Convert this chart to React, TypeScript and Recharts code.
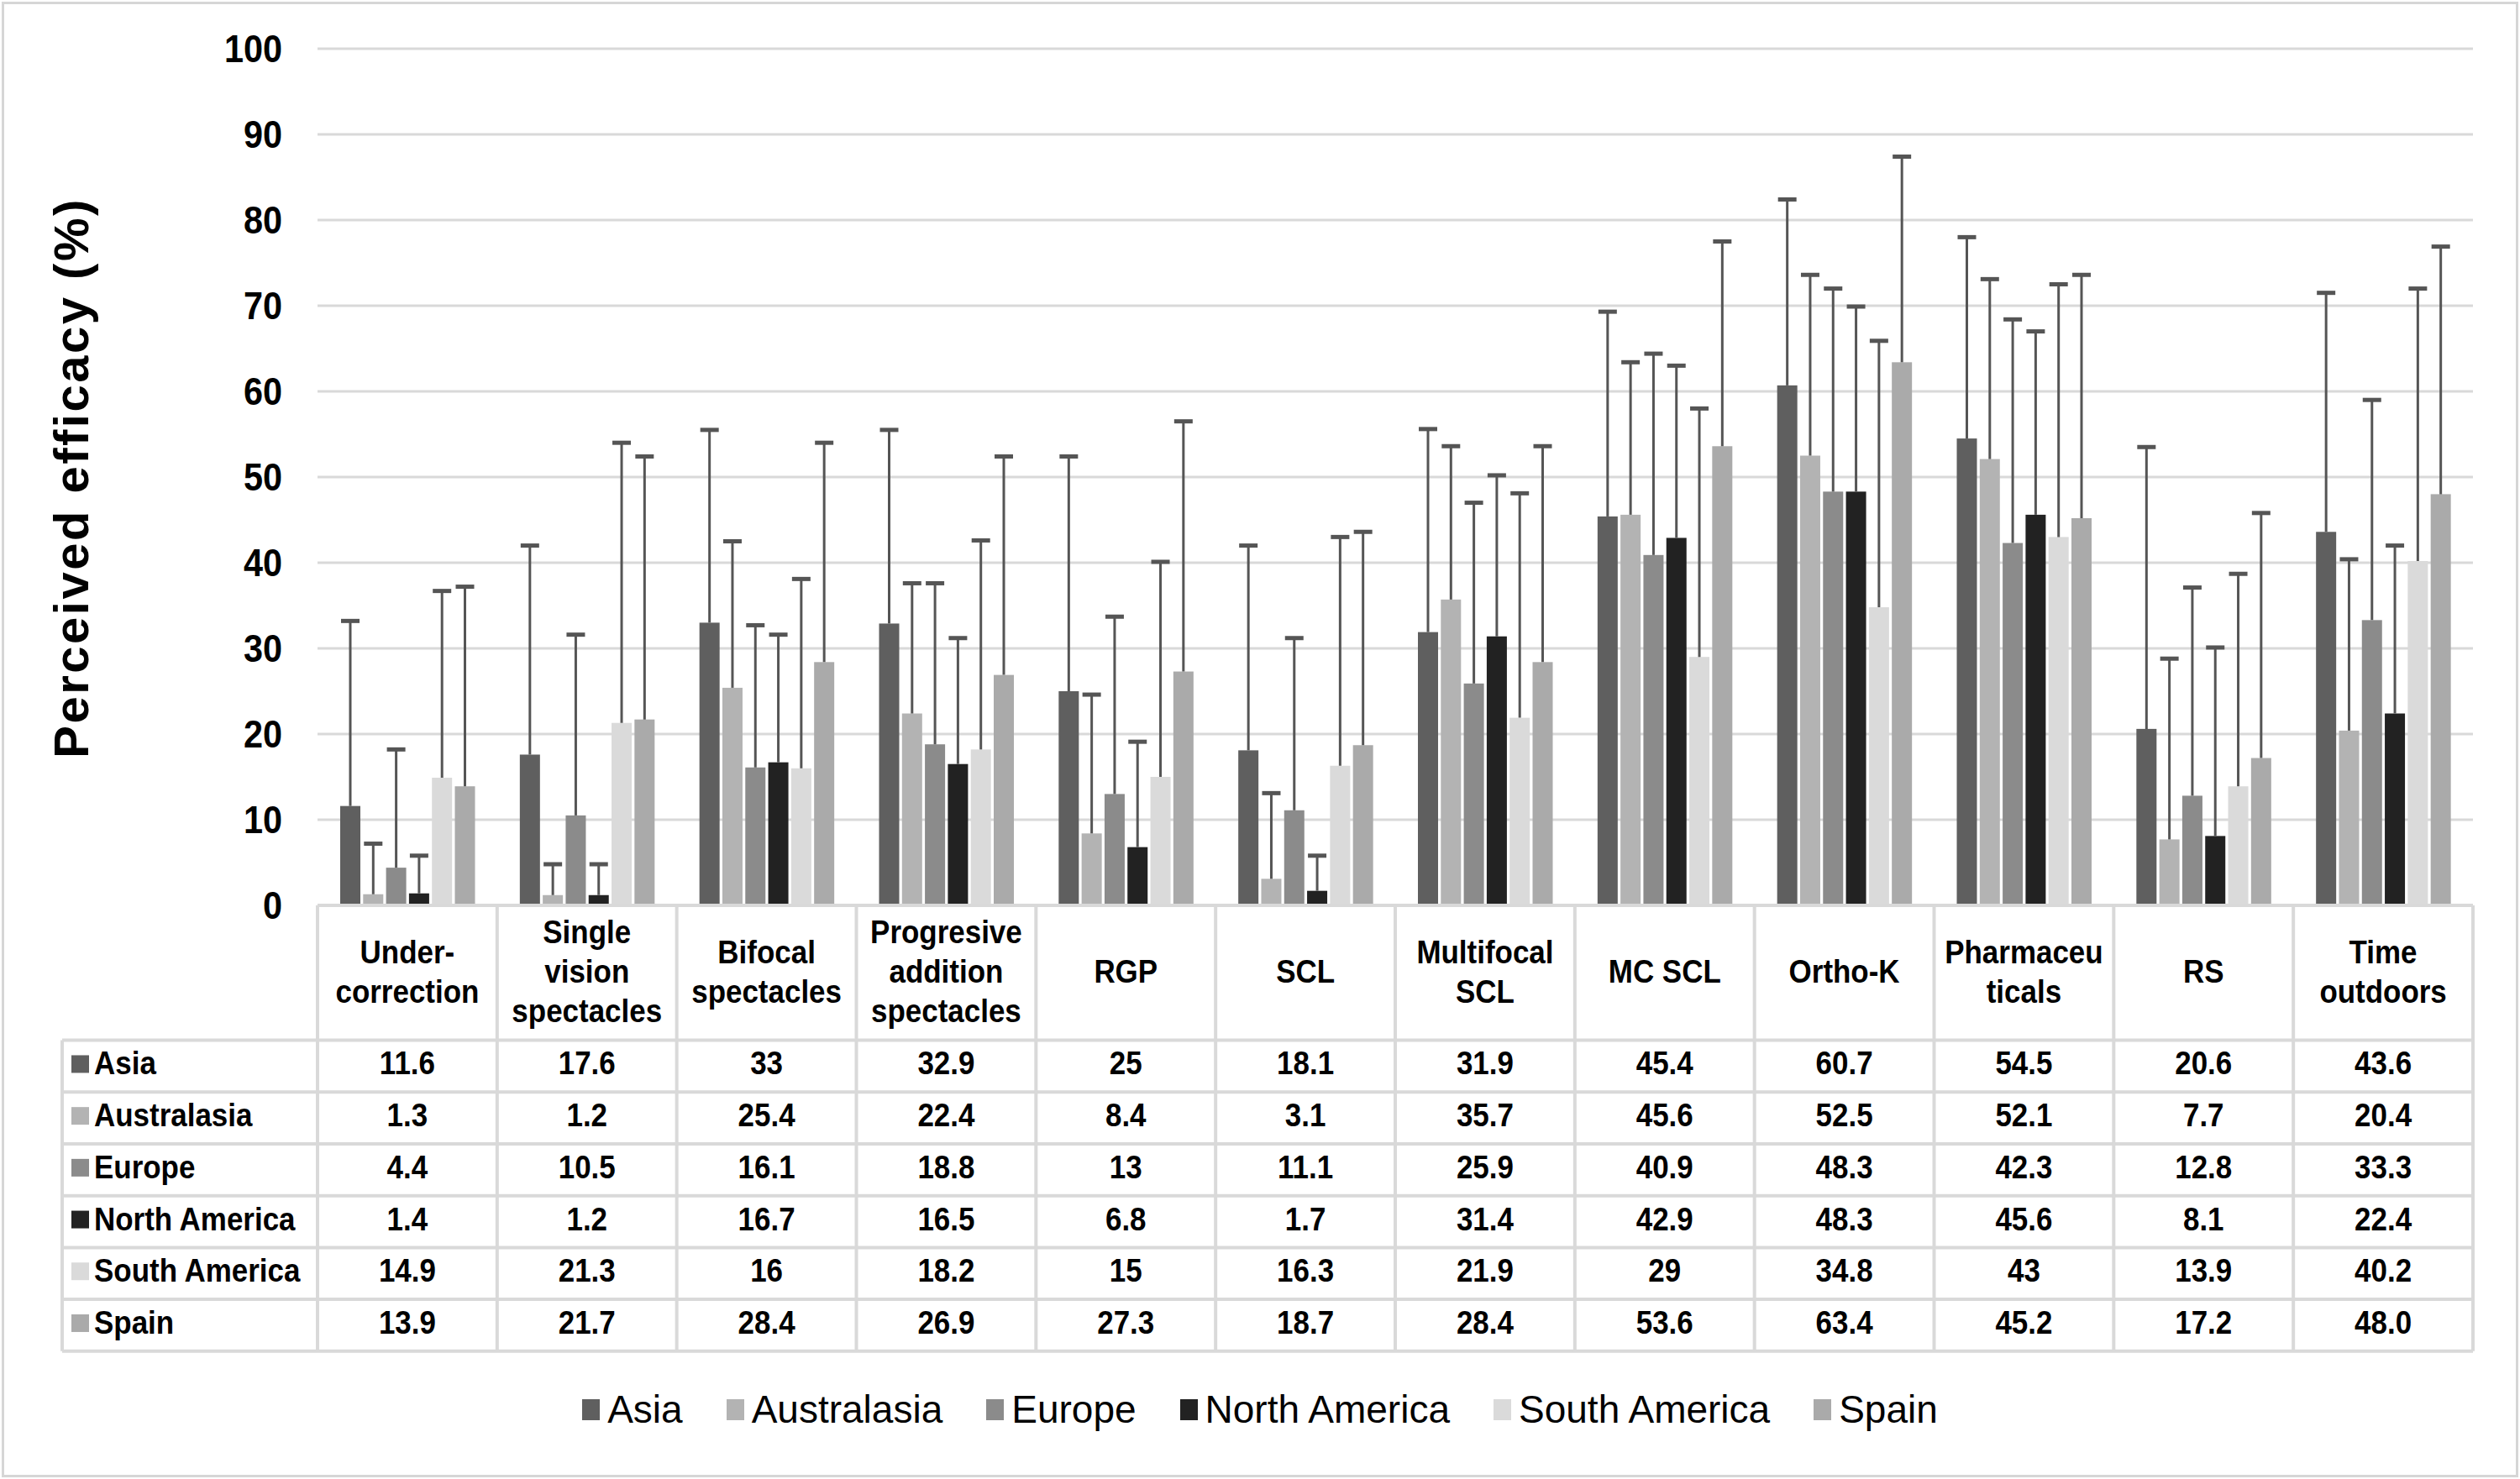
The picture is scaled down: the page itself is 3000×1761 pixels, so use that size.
import React from "react";
import { BarChart, Bar, XAxis, YAxis, CartesianGrid, Legend } from "recharts";

const categories = [
  "Under-\ncorrection",
  "Single\nvision\nspectacles",
  "Bifocal\nspectacles",
  "Progresive\naddition\nspectacles",
  "RGP",
  "SCL",
  "Multifocal\nSCL",
  "MC SCL",
  "Ortho-K",
  "Pharmaceu\nticals",
  "RS",
  "Time\noutdoors",
];
const seriesNames = ["Asia", "Australasia", "Europe", "North America", "South America", "Spain"];
const seriesKeys = ["asia", "australasia", "europe", "northAmerica", "southAmerica", "spain"];
const yTicks = [0, 10, 20, 30, 40, 50, 60, 70, 80, 90, 100];

// means as printed in the table
const asiaMean = ["11.6", "17.6", "33", "32.9", "25", "18.1", "31.9", "45.4", "60.7", "54.5", "20.6", "43.6"];
const australasiaMean = ["1.3", "1.2", "25.4", "22.4", "8.4", "3.1", "35.7", "45.6", "52.5", "52.1", "7.7", "20.4"];
const europeMean = ["4.4", "10.5", "16.1", "18.8", "13", "11.1", "25.9", "40.9", "48.3", "42.3", "12.8", "33.3"];
const northAmericaMean = ["1.4", "1.2", "16.7", "16.5", "6.8", "1.7", "31.4", "42.9", "48.3", "45.6", "8.1", "22.4"];
const southAmericaMean = ["14.9", "21.3", "16", "18.2", "15", "16.3", "21.9", "29", "34.8", "43", "13.9", "40.2"];
const spainMean = ["13.9", "21.7", "28.4", "26.9", "27.3", "18.7", "28.4", "53.6", "63.4", "45.2", "17.2", "48.0"];

// upper error (SD)
const asiaSd = [21.7, 24.5, 22.6, 22.7, 27.5, 24.0, 23.8, 24.0, 21.8, 23.6, 33.0, 28.0];
const australasiaSd = [6.0, 3.7, 17.2, 15.3, 16.3, 10.1, 18.0, 17.9, 21.2, 21.1, 21.2, 20.1];
const europeSd = [13.9, 21.2, 16.7, 18.9, 20.8, 20.2, 21.2, 23.6, 23.8, 26.2, 24.4, 25.8];
const northAmericaSd = [4.5, 3.7, 15.0, 14.8, 12.4, 4.2, 18.9, 20.2, 21.7, 21.5, 22.1, 19.7];
const southAmericaSd = [21.9, 32.8, 22.2, 24.5, 25.2, 26.8, 26.3, 29.1, 31.2, 29.6, 24.9, 31.9];
const spainSd = [23.4, 30.8, 25.7, 25.6, 29.3, 25.0, 25.3, 24.0, 24.1, 28.5, 28.7, 29.0];

const colors = ["#5f5f5f", "#b3b3b3", "#8b8b8b", "#222222", "#dadada", "#aaaaaa"];

const means = [asiaMean, australasiaMean, europeMean, northAmericaMean, southAmericaMean, spainMean];
const sds = [asiaSd, australasiaSd, europeSd, northAmericaSd, southAmericaSd, spainSd];

const data = categories.map((c, i) => {
  const row: any = { name: c };
  seriesKeys.forEach((k, s) => {
    row[k] = Number(means[s][i]);
    row[k + "Sd"] = sds[s][i];
    row[k + "Label"] = means[s][i];
  });
  return row;
});

// layout
const W = 3000;
const H = 1761;
const MARGIN_TOP = 58;
const MARGIN_RIGHT = 56;
const Y_AXIS_W = 378;
const X_AXIS_H = 540;
const LEGEND_H = 120;
const MARGIN_BOTTOM = 23;
const PLOT_W = W - Y_AXIS_W - MARGIN_RIGHT;
const BW = PLOT_W / categories.length;
const TABLE_LEFT = 74;
const HEADER_H = 160.6;
const ROW_H = 61.7;
const GRID = "#d9d9d9";
const FONT = '"Liberation Sans", Arial, Helvetica, sans-serif';

const CText = ({ x, y, children, size = 38, sx = 0.92, anchor = "middle", weight = 700 }: any) => (
  <text
    transform={`translate(${x},${y}) scale(${sx},1)`}
    textAnchor={anchor}
    dominantBaseline="central"
    fontSize={size}
    fontWeight={weight}
    fontFamily={FONT}
    fill="#000"
  >
    {children}
  </text>
);

const YTick = (props: any) => (
  <CText x={props.x} y={props.y} anchor="end" size={46} sx={0.9}>
    {props.payload.value}
  </CText>
);

const YTitle = () => (
  <text
    transform="translate(84,569) rotate(-90)"
    textAnchor="middle"
    dominantBaseline="central"
    fontSize={58}
    fontWeight={700}
    letterSpacing={2.5}
    fontFamily={FONT}
    fill="#000"
  >
    Perceived efficacy (%)
  </text>
);

const TableTick = (props: any) => {
  const { x, y, index } = props;
  const i = index;
  const lines = categories[i].split("\n");
  const hc = y + HEADER_H / 2 - 1;
  const LH = 47;
  const rowTop = y + HEADER_H;
  const bottom = rowTop + ROW_H * seriesKeys.length;
  const el: any[] = [];
  el.push(
    <line key="vr" x1={x + BW / 2} x2={x + BW / 2} y1={y} y2={bottom} stroke={GRID} strokeWidth={4} />
  );
  if (i === 0) {
    const left = x - BW / 2;
    el.push(<line key="vl" x1={left} x2={left} y1={y} y2={bottom} stroke={GRID} strokeWidth={4} />);
    el.push(<line key="vt" x1={TABLE_LEFT} x2={TABLE_LEFT} y1={rowTop} y2={bottom} stroke={GRID} strokeWidth={4} />);
    for (let k = 0; k <= seriesKeys.length; k++) {
      const yy = rowTop + k * ROW_H;
      el.push(<line key={"hl" + k} x1={TABLE_LEFT} x2={left + PLOT_W} y1={yy} y2={yy} stroke={GRID} strokeWidth={4} />);
    }
    seriesNames.forEach((n, s) => {
      const cy = rowTop + (s + 0.5) * ROW_H - 3;
      el.push(<rect key={"k" + s} x={85} y={cy - 10} width={21} height={21} fill={colors[s]} />);
      el.push(
        <CText key={"n" + s} x={112} y={cy} anchor="start" sx={0.92}>
          {n}
        </CText>
      );
    });
  }
  lines.forEach((ln, k) =>
    el.push(
      <CText key={"h" + k} x={x} y={hc + (k - (lines.length - 1) / 2) * LH}>
        {ln}
      </CText>
    )
  );
  seriesKeys.forEach((key, s) =>
    el.push(
      <CText key={"v" + s} x={x} y={rowTop + (s + 0.5) * ROW_H - 3}>
        {data[i][key + "Label"]}
      </CText>
    )
  );
  return <g>{el}</g>;
};

const makeShape = (key: string, color: string) => (props: any) => {
  const { x, y, width, height, payload } = props;
  const v = payload[key];
  const sd = payload[key + "Sd"];
  const ppu = v ? height / v : 0;
  const top = y - sd * ppu;
  const cx = x + width / 2;
  return (
    <g>
      <rect x={x} y={y} width={width} height={height} fill={color} />
      <line x1={cx} x2={cx} y1={y} y2={top} stroke="#555555" strokeWidth={3} />
      <line x1={cx - 11} x2={cx + 11} y1={top + 1} y2={top + 1} stroke="#555555" strokeWidth={5} />
    </g>
  );
};

const LegendContent = () => (
  <div
    style={{
      display: "flex",
      justifyContent: "center",
      alignItems: "center",
      height: LEGEND_H,
      width: W,
      fontFamily: FONT,
      fontSize: 46,
      color: "#000",
    }}
  >
    {seriesNames.map((n, i) => (
      <div key={n} style={{ display: "flex", alignItems: "center", marginRight: i < seriesNames.length - 1 ? 52 : 0 }}>
        <span style={{ display: "inline-block", width: 21, height: 25, background: colors[i], marginRight: 9 }} />
        <span>{n}</span>
      </div>
    ))}
  </div>
);

export default function App() {
  return (
    <div style={{ position: "absolute", left: 0, top: 0, width: W, height: H, background: "#fff" }}>
      <div
        style={{
          position: "absolute",
          left: 2,
          top: 2,
          width: W - 4,
          height: H - 4,
          border: "3px solid #d6d6d6",
          boxSizing: "border-box",
          pointerEvents: "none",
        }}
      />
      <BarChart
        width={W}
        height={H}
        data={data}
        margin={{ top: MARGIN_TOP, right: MARGIN_RIGHT, bottom: MARGIN_BOTTOM, left: 0 }}
        barSize={24}
        barGap={3.3}
      >
        <CartesianGrid vertical={false} stroke={GRID} strokeWidth={3} />
        <YAxis
          width={Y_AXIS_W}
          domain={[0, 100]}
          ticks={yTicks}
          interval={0}
          axisLine={false}
          tickLine={false}
          tickSize={0}
          tickMargin={42}
          tick={<YTick />}
          label={<YTitle />}
        />
        <XAxis
          dataKey="name"
          height={X_AXIS_H}
          interval={0}
          axisLine={{ stroke: GRID, strokeWidth: 4 }}
          tickLine={false}
          tickSize={0}
          tickMargin={0}
          tick={<TableTick />}
        />
        <Legend
          verticalAlign="bottom"
          content={<LegendContent />}
          wrapperStyle={{ left: 0, width: W, height: LEGEND_H, bottom: MARGIN_BOTTOM }}
        />
        {seriesKeys.map((k, s) => (
          <Bar
            key={k}
            dataKey={k}
            name={seriesNames[s]}
            fill={colors[s]}
            isAnimationActive={false}
            shape={makeShape(k, colors[s])}
          />
        ))}
      </BarChart>
    </div>
  );
}
